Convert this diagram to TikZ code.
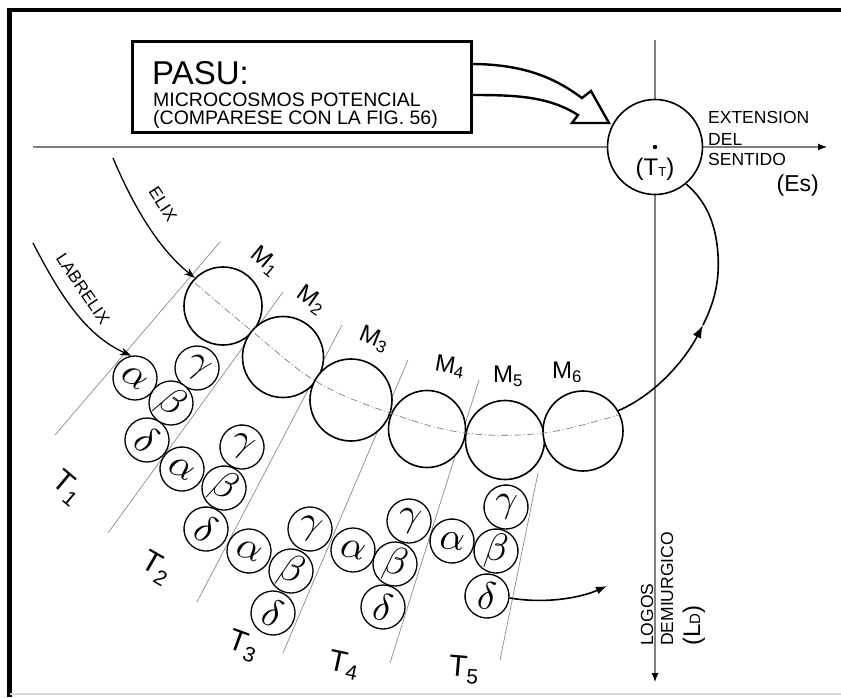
\documentclass[tikz,border=0pt]{standalone}
\usepackage{fontspec}
\setmainfont{Liberation Sans}
\usepackage{graphicx}
\usetikzlibrary{arrows.meta}
\newcommand{\grk}[1]{\scalebox{3.9}{$#1$}}
\begin{document}
\begin{tikzpicture}[x=1pt,y=-1pt,
 guide/.style={draw=black!45, line width=0.7pt},
 axisline/.style={draw=black!50, line width=1.1pt},
 mcirc/.style={circle, draw=black, line width=1.6pt, fill=white, inner sep=0pt, minimum size=#1},
 gcirc/.style={circle, draw=black, line width=1.3pt, fill=white, inner sep=0pt, minimum size=44pt},
 mlabel/.style={font=\fontsize{24}{24}\selectfont, inner sep=0pt},
 tlabel/.style={font=\fontsize{30}{30}\selectfont, inner sep=0pt},
 smalltext/.style={font=\fontsize{17}{17}\selectfont, inner sep=0pt},
 blackarrow/.style={draw=black, line width=1.6pt},
]
\useasboundingbox (0,0) rectangle (841,697);
\fill[white] (0,0) rectangle (841,697);
% frame
\draw[line width=4.5pt] (9.5,697) -- (9.5,10) -- (841,10);
\draw[black!15, line width=2pt] (10,694) -- (841,694);

% guide lines
\coordinate (gA1) at (220,242); \coordinate (gA2) at (55,435);
\coordinate (gB1) at (283,292); \coordinate (gB2) at (108,533);
\coordinate (gC1) at (342,325); \coordinate (gC2) at (197,602);
\coordinate (gD1) at (408,360); \coordinate (gD2) at (283,653);
\coordinate (gE1) at (479,380); \coordinate (gE2) at (390,663);
\coordinate (gF1) at (538,473); \coordinate (gF2) at (500,660);
\draw[guide] (gA1) -- (gA2);
\draw[guide] (gB1) -- (gB2);
\draw[guide] (gC1) -- (gC2);
\draw[guide] (gD1) -- (gD2);
\draw[guide] (gE1) -- (gE2);
\draw[guide] (gF1) -- (gF2);

% axes
\coordinate (hx0) at (33,147); \coordinate (hx1) at (827,147);
\coordinate (vy0) at (655,40); \coordinate (vy1) at (655,682);
\draw[axisline, -{Latex[length=9pt,width=7pt,color=black]}] (hx0) -- (hx1);
\draw[axisline, -{Latex[length=9pt,width=7pt,color=black]}] (vy0) -- (vy1);

% M circles
\node[mcirc=78pt] (M1) at (223,306) {};
\node[mcirc=81pt] (M2) at (283,357) {};
\node[mcirc=82pt] (M3) at (351,400) {};
\node[mcirc=77pt] (M4) at (427,429) {};
\node[mcirc=79pt] (M5) at (505,440) {};
\node[mcirc=80pt] (M6) at (583,431) {};

% dash-dot curve
\draw[black!45, line width=0.8pt, dash pattern=on 7pt off 2.5pt on 1pt off 2.5pt]
  plot[smooth, tension=0.6] coordinates {(195,283) (253,332) (317,382) (390,413) (465,433) (544,433) (618,415)};

% greek circles group 1
\node[gcirc, rotate=-35] (a1) at (135,378) {\grk{\alpha}};
\node[gcirc, rotate=-35] (c1) at (197,368) {\grk{\gamma}};
\node[gcirc, rotate=-35] (b1) at (171,403) {\grk{\beta}};
\node[gcirc, rotate=-35] (d1) at (147,440) {\grk{\delta}};
% group 2
\node[gcirc, rotate=-28] (c2) at (242,447) {\grk{\gamma}};
\node[gcirc, rotate=-28] (a2) at (182,469) {\grk{\alpha}};
\node[gcirc, rotate=-28] (b2) at (224,488) {\grk{\beta}};
\node[gcirc, rotate=-28] (d2) at (206,529) {\grk{\delta}};
% group 3
\node[gcirc, rotate=-20] (c3) at (310,529) {\grk{\gamma}};
\node[gcirc, rotate=-20] (a3) at (249,551) {\grk{\alpha}};
\node[gcirc, rotate=-20] (b3) at (291,571) {\grk{\beta}};
\node[gcirc, rotate=-20] (d3) at (273,613) {\grk{\delta}};
% group 4
\node[gcirc, rotate=-12] (a4) at (353,550) {\grk{\alpha}};
\node[gcirc, rotate=-12] (b4) at (395,564) {\grk{\beta}};
\node[gcirc, rotate=-12] (c4) at (409,521) {\grk{\gamma}};
\node[gcirc, rotate=-12] (d4) at (383,607) {\grk{\delta}};
% group 5
\node[gcirc, rotate=-5] (c5) at (506,507) {\grk{\gamma}};
\node[gcirc, rotate=-5] (a5) at (452,541) {\grk{\alpha}};
\node[gcirc, rotate=-5] (b5) at (496,551) {\grk{\beta}};
\node[gcirc, rotate=-5] (d5) at (487,596) {\grk{\delta}};

% M labels
\node[mlabel, rotate=-40] (lM1) at (265,261) {M\textsubscript{1}};
\node[mlabel, rotate=-35] (lM2) at (311,300) {M\textsubscript{2}};
\node[mlabel, rotate=-22] (lM3) at (374,339) {M\textsubscript{3}};
\node[mlabel, rotate=-10] (lM4) at (450,367) {M\textsubscript{4}};
\node[mlabel] (lM5) at (508,376) {M\textsubscript{5}};
\node[mlabel] (lM6) at (567,372) {M\textsubscript{6}};

% T labels
\node[tlabel, rotate=-40] (lT1) at (67,488) {T\textsubscript{1}};
\node[tlabel, rotate=-30] (lT2) at (156,568) {T\textsubscript{2}};
\node[tlabel, rotate=-20] (lT3) at (243,646) {T\textsubscript{3}};
\node[tlabel, rotate=-12] (lT4) at (344,665) {T\textsubscript{4}};
\node[tlabel, rotate=-5] (lT5) at (464,670) {T\textsubscript{5}};

% ELIX and LABRELIX arrows
\coordinate (elix0) at (113,158);
\coordinate (labr0) at (33,243);
\draw[blackarrow, line width=1.3pt, -{Stealth[length=11pt,width=8pt]}] (elix0) .. controls (135,210) and (160,250) .. (M1.135);
\draw[blackarrow, line width=1.3pt, -{Stealth[length=11pt,width=8pt]}] (labr0) .. controls (60,295) and (85,335) .. (a1.135);
\node[smalltext, rotate=-57] (elix) at (163,204) {ELIX};
\node[smalltext, rotate=-56] (labrelix) at (83,289) {LABRELIX};

% TT circle
\node[circle, draw=black, line width=1.6pt, fill=white, minimum size=95pt, inner sep=0pt] (TT) at (655,147) {};
\fill (TT.center) circle (2.2pt);
\node[font=\fontsize{24}{24}\selectfont, inner sep=0pt] (TTlab) at (655,169) {(T\raisebox{-1.5pt}{\fontsize{13}{13}\selectfont T})};

% big curved arrow from M6 to TT
\coordinate (cur1) at (703,325);
\draw[blackarrow, -{Latex[length=13pt,width=9pt]}] (M6.30) .. controls (655,395) and (685,360) .. (cur1);
\draw[blackarrow] (cur1) .. controls (712,307) and (720,285) .. (718,255) .. controls (716,222) and (705,200) .. (TT.-50);

% arrow from delta5
\coordinate (ldend) at (607,586);
\draw[blackarrow, -{Latex[length=11pt,width=8pt]}] (d5.east) .. controls (545,604) and (580,598) .. (ldend);

% PASU box and hollow arrow
\draw[line width=2.4pt, fill=white, line join=miter]
  (471,64) .. controls (530,64) and (560,82) .. (582,98) -- (591,91) -- (609,123) -- (572,123) -- (578,115)
  .. controls (548,96) and (515,95) .. (471,95) -- cycle;
\node[draw=black, line width=3pt, fill=white, minimum width=339pt, minimum height=91pt, inner sep=0pt] (box) at (301.5,86.5) {};
\node[anchor=base west, font=\fontsize{33}{33}\selectfont, inner sep=0pt] (pasu) at (152,84) {PASU:};
\node[anchor=base west, font=\fontsize{19.5}{19.5}\selectfont, inner sep=0pt] (micro) at (153,106) {MICROCOSMOS POTENCIAL};
\node[anchor=base west, font=\fontsize{19.5}{19.5}\selectfont, inner sep=0pt] (comp) at (153,124) {(COMPARESE CON LA FIG. 56)};

% axis labels
\node[anchor=base west, font=\fontsize{17.5}{17.5}\selectfont, inner sep=0pt] (ext) at (708,123) {EXTENSION};
\node[anchor=base west, font=\fontsize{17.5}{17.5}\selectfont, inner sep=0pt] (del) at (708,145) {DEL};
\node[anchor=base west, font=\fontsize{17.5}{17.5}\selectfont, inner sep=0pt] (sent) at (708,165) {SENTIDO};
\node[anchor=base east, font=\fontsize{23}{23}\selectfont, inner sep=0pt] (es) at (819,191) {(Es)};

\node[anchor=base west, rotate=90, font=\fontsize{17.5}{17.5}\selectfont, inner sep=0pt] (logos) at (653,646) {LOGOS};
\node[anchor=base west, rotate=90, font=\fontsize{17.5}{17.5}\selectfont, inner sep=0pt] (demi) at (673,646) {DEMIURGICO};
\node[anchor=base west, rotate=90, font=\fontsize{24}{24}\selectfont, inner sep=0pt] (ldlab) at (700,646) {(L{\fontsize{15}{15}\selectfont D})};
\end{tikzpicture}
\end{document}
